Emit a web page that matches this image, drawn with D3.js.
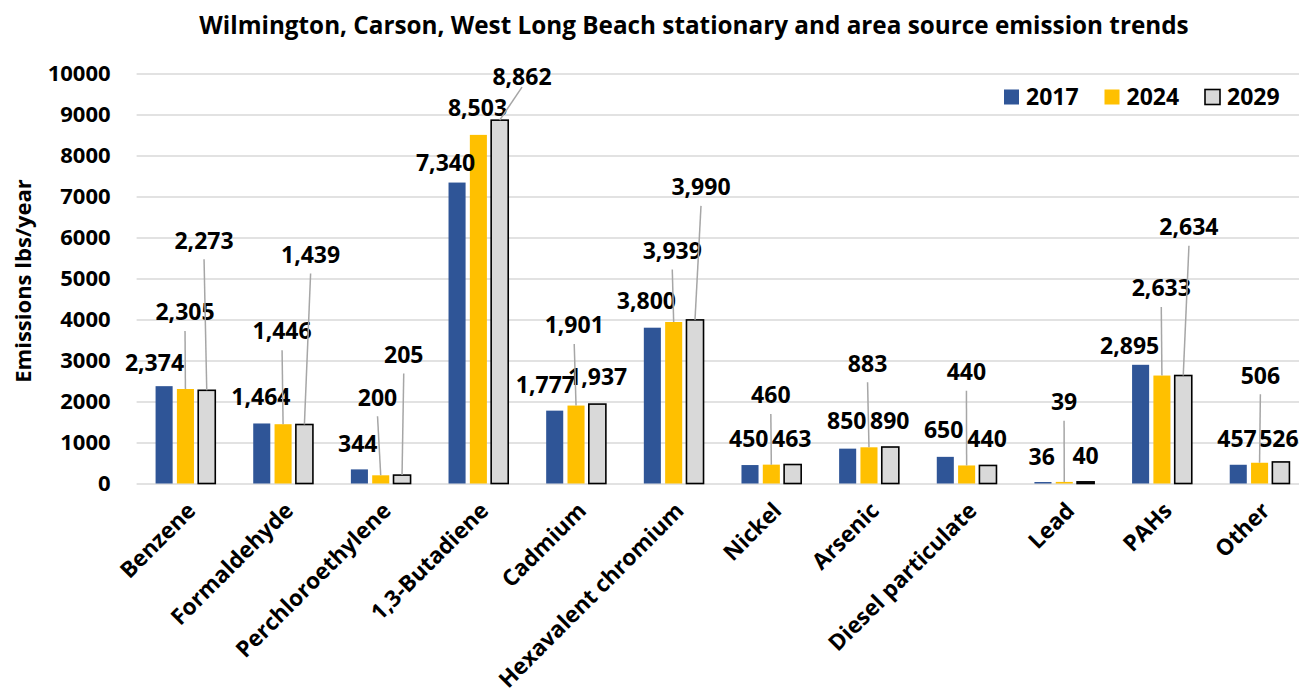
<!DOCTYPE html>
<html>
<head>
<meta charset="utf-8">
<script src="https://cdn.jsdelivr.net/npm/d3@7"></script>
<style>
  html, body { margin: 0; padding: 0; background: #fff; }
  svg { display: block; }
  text { font-family: "Open Sans", "Liberation Sans", sans-serif; font-weight: 700; fill: #000; }
</style>
</head>
<body>
<svg id="chart" width="1299" height="694"></svg>
<script>
// ---------- data ----------
const title = "Wilmington, Carson, West Long Beach stationary and area source emission trends";
const yTitle = "Emissions lbs/year";
const categories = ["Benzene", "Formaldehyde", "Perchloroethylene", "1,3-Butadiene", "Cadmium",
  "Hexavalent chromium", "Nickel", "Arsenic", "Diesel particulate", "Lead", "PAHs", "Other"];
const seriesNames = ["2017", "2024", "2029"];
const values2017 = [2374, 1464, 344, 7340, 1777, 3800, 450, 850, 650, 36, 2895, 457];
const values2024 = [2305, 1446, 200, 8503, 1901, 3939, 460, 883, 440, 39, 2633, 506];
const values2029 = [2273, 1439, 205, 8862, 1937, 3990, 463, 890, 440, 40, 2634, 526];
const yTicks = [0, 1000, 2000, 3000, 4000, 5000, 6000, 7000, 8000, 9000, 10000];

// ---------- label layout (pixel offsets from bar top centre; leader gap, 0 = no leader) ----------
const labelOffsets2017 = [[-9.6,-23,0],[-0.8,-27,0],[-1.6,-26,0],[-11.5,-19.6,0],[-9.3,-26,0],[-6,-27.2,0],
  [-1.2,-26.4,0],[-0.9,-27.8,0],[-1.6,-27.2,0],[-1.2,-25.8,0],[-10.9,-19.5,0],[-1.2,-26.5,0]];
const labelOffsets2024 = [[-0.4,-77,19],[-1,-93,19],[-3.2,-78,19],[-0.9,-27.4,0],[-1.8,-80.6,19],[-1.4,-71.5,19],
  [-0.5,-69.6,19],[-1.4,-84,19],[-0.2,-93.8,19],[-0.2,-80.2,19],[-0.65,-87.5,19],[0.8,-87.4,19]];
const labelOffsets2029 = [[-2.7,-150,19],[6.2,-170,19],[1.7,-120.6,19],[22.3,-43,10],[0.3,-27,0],[6,-133,19],
  [-0.9,-25.8,0],[-0.5,-26.2,0],[-0.85,-26.8,0],[0,-25.7,0],[5.7,-148.8,19],[-2,-23.6,0]];

const colors = { "2017": "#2F5597", "2024": "#FFC000", "2029": "#D9D9D9" };
const strokes = { "2017": "none", "2024": "none", "2029": "#000" };

// ---------- layout ----------
const W = 1299, H = 694;
const plotLeft = 136.6, plotRight = 136.6 + 12 * 97.65;
const plotTop = 73.5, plotBottom = 483.5;

const svg = d3.select("#chart");
const x0 = d3.scaleBand().domain(categories).range([plotLeft, plotRight]).paddingInner(0).paddingOuter(0);
const x1 = d3.scaleBand().domain(seriesNames).range([0, x0.bandwidth()]).paddingInner(0.2).paddingOuter(0.89);
const y = d3.scaleLinear().domain([0, 10000]).range([plotBottom, plotTop]);

const series = seriesNames.map((s, si) => ({
  name: s,
  values: [values2017, values2024, values2029][si],
  offsets: [labelOffsets2017, labelOffsets2024, labelOffsets2029][si]
}));

// gridlines + y axis
const yAxis = d3.axisLeft(y).tickValues(yTicks).tickFormat(d3.format("d"))
  .tickSize(-(plotRight - plotLeft)).tickPadding(26);
const gy = svg.append("g").attr("transform", `translate(${plotLeft},0)`).call(yAxis);
gy.select(".domain").remove();
gy.selectAll(".tick line").attr("stroke", "#D9D9D9").attr("stroke-width", 1.6);
gy.selectAll(".tick text").attr("font-size", 22).attr("fill", "#000")
  .style("font-family", "'Open Sans', sans-serif").style("font-weight", 700);

// bars
const gBars = svg.append("g");
series.forEach(s => {
  gBars.selectAll(null).data(categories).enter().append("rect")
    .attr("x", (c) => x0(c) + x1(s.name))
    .attr("y", (c, i) => y(s.values[i]))
    .attr("width", x1.bandwidth())
    .attr("height", (c, i) => y(0) - y(s.values[i]))
    .attr("fill", colors[s.name])
    .attr("stroke", strokes[s.name])
    .attr("stroke-width", s.name === "2029" ? 1.6 : 0);
});

// x axis labels
const xAxis = d3.axisBottom(x0).tickSize(0).tickPadding(0);
const gx = svg.append("g").attr("transform", `translate(0,${plotBottom})`).call(xAxis);
gx.select(".domain").remove();
gx.selectAll(".tick text")
  .attr("y", null).attr("dy", null)
  .attr("text-anchor", "end")
  .attr("font-size", 22.5)
  .style("font-family", "'Open Sans', sans-serif").style("font-weight", 700)
  .attr("transform", "translate(6,23) rotate(-45)")
  .attr("dy", "0.35em");

// data labels + leader lines
const fmt = d3.format(",");
const labelFont = 23;
const gLab = svg.append("g");
const gLead = svg.append("g");
series.forEach(s => {
  categories.forEach((c, i) => {
    const bx = x0(c) + x1(s.name) + x1.bandwidth() / 2;
    const by = y(s.values[i]);
    const [dx, dy, gap] = s.offsets[i];
    const lx = bx + dx, ly = by + dy;
    gLab.append("text")
      .attr("x", lx).attr("y", ly)
      .attr("dy", "0.36em")
      .attr("text-anchor", "middle")
      .attr("font-size", labelFont)
      .text(fmt(s.values[i]));
    if (gap > 0) {
      gLead.append("line")
        .attr("x1", lx).attr("y1", ly + gap)
        .attr("x2", bx).attr("y2", by)
        .attr("stroke", "#A6A6A6").attr("stroke-width", 1.5);
    }
  });
});

// title
const t = svg.append("text").attr("x", 694).attr("y", 25).attr("dy", "0.35em")
  .attr("text-anchor", "middle").attr("font-size", 21).text(title);
const tw = t.node().getComputedTextLength();
t.attr("font-size", 21 * 990 / tw);

// y title
svg.append("text").attr("transform", "translate(23,281) rotate(-90)")
  .attr("text-anchor", "middle").attr("dy", "0.35em").attr("font-size", 22).text(yTitle);

// legend
const legend = svg.append("g").attr("transform", "translate(1004,89.5)");
seriesNames.forEach((s, i) => {
  const g = legend.append("g").attr("transform", `translate(${i * 100.5},0)`);
  g.append("rect").attr("width", 15).attr("height", 15)
    .attr("fill", colors[s]).attr("stroke", strokes[s]).attr("stroke-width", s === "2029" ? 1.6 : 0);
  g.append("text").attr("x", 22).attr("y", 7.5).attr("dy", "0.36em").attr("font-size", 23).text(s);
});
</script>
</body>
</html>
